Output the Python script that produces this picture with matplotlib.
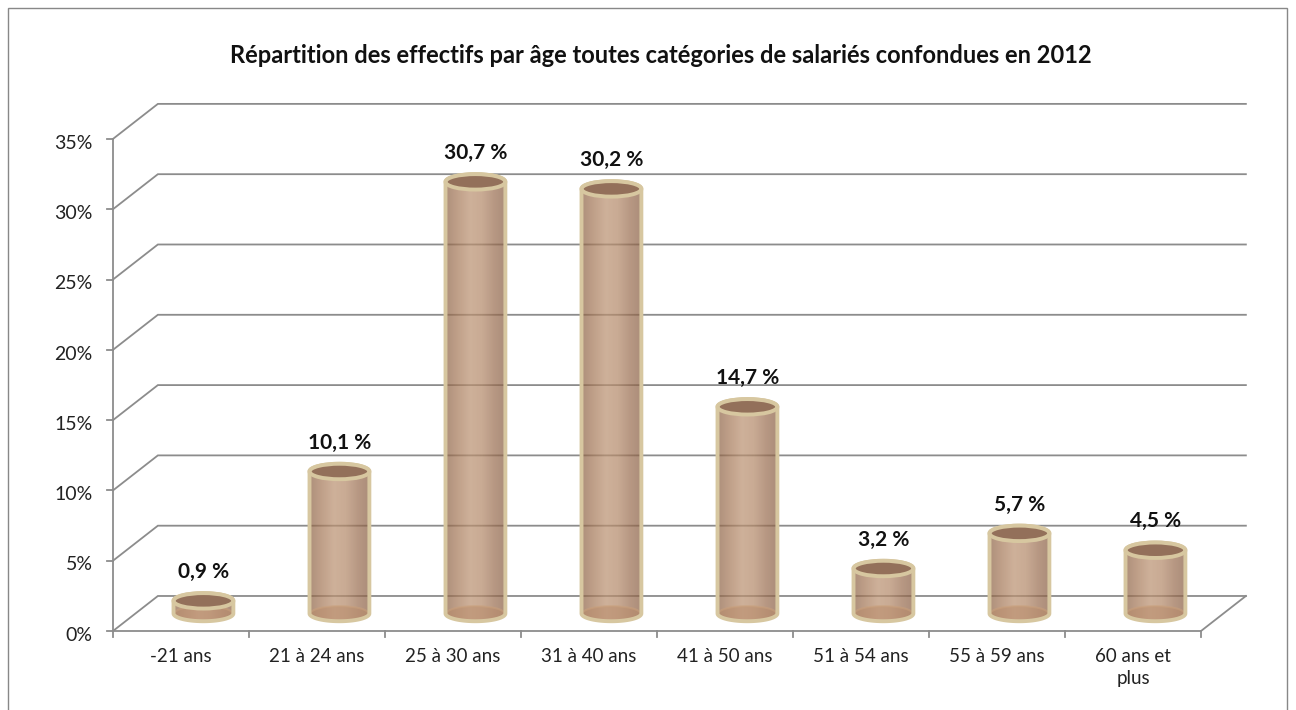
import numpy as np
import matplotlib.pyplot as plt
from matplotlib.patches import Ellipse, Polygon, Rectangle
from matplotlib.colors import LinearSegmentedColormap

plt.rcParams['font.family'] = ['Lato', 'DejaVu Sans']

categories = ['-21 ans', '21 à 24 ans', '25 à 30 ans', '31 à 40 ans',
              '41 à 50 ans', '51 à 54 ans', '55 à 59 ans', '60 ans et\nplus']
values = [0.9, 10.1, 30.7, 30.2, 14.7, 3.2, 5.7, 4.5]
yticks = [0, 5, 10, 15, 20, 25, 30, 35]
title = 'Répartition des effectifs par âge toutes catégories de salariés confondues en 2012'

# perspective of the fake 3D box (category units / percent units)
DX = 0.33
DY = 2.49
W = 0.44      # cylinder width
EH = 1.1      # ellipse height
GRID = '#8c8c8c'

fig = plt.figure(figsize=(12.96, 7.10), dpi=100)
ax = fig.add_axes([0, 0, 1, 1])
ax.set_xlim(-113 / 136, (1296 - 113) / 136)
ax.set_ylim(-(710 - 631) / 14.06, 631 / 14.06)
ax.axis('off')

n = len(categories)

# outer frame
fig.patches.append(Rectangle((8 / 1296, -0.02), 1279 / 1296, 1 - 8 / 710 + 0.02,
                             transform=fig.transFigure, fill=False,
                             edgecolor='#888888', lw=1.0))

# gridlines on the back wall + left wall
for t in yticks:
    ax.plot([0, DX, n + DX], [t, t + DY, t + DY], color=GRID, lw=1.3, zorder=1,
            solid_joinstyle='miter')
    ax.plot([-0.045, 0], [t, t], color=GRID, lw=1.3, zorder=1)
    ax.text(-0.15, t - 0.3, '{}%'.format(t), ha='right', va='center',
            fontsize=14, color='#222222')

# front axis and floor
ax.plot([0, 0], [0, yticks[-1]], color=GRID, lw=1.3, zorder=1)
ax.plot([0, n, n + DX], [0, 0, DY], color=GRID, lw=1.3, zorder=1)
for i in range(n + 1):
    ax.plot([i, i], [0, -0.45], color=GRID, lw=1.3, zorder=1)

for i, c in enumerate(categories):
    ax.text(i + 0.5, -1.2, c, ha='center', va='top', fontsize=13.5,
            color='#222222', linespacing=1.4)

ax.text(n / 2 + 0.03, 40.9, title, ha='center', va='center', fontsize=17,
        fontweight='bold', color='#111111')

body_cmap = LinearSegmentedColormap.from_list(
    'body', ['#8f6548', '#a87c5c', '#bb9272', '#b48a6a', '#9c7053', '#8a6045'])

for i, v in enumerate(values):
    cx = i + 0.5 + DX / 2
    b = DY / 2
    top = b + v
    th = np.linspace(np.pi, 2 * np.pi, 60)
    bx = cx + W / 2 * np.cos(th)
    by = b + EH / 2 * np.sin(th)
    th2 = np.linspace(0, np.pi, 60)
    tx = cx + W / 2 * np.cos(th2)
    ty = top + EH / 2 * np.sin(th2)
    pts = np.column_stack([np.concatenate([bx, tx]), np.concatenate([by, ty])])
    shape = Polygon(pts, closed=True, facecolor='none', edgecolor='none')
    ax.add_patch(shape)
    grad = np.linspace(0, 1, 100).reshape(1, -1)
    im = ax.imshow(grad, cmap=body_cmap, aspect='auto', alpha=0.72,
                   extent=[cx - W / 2, cx + W / 2, b - EH / 2, top + EH / 2],
                   zorder=3, interpolation='bilinear')
    im.set_clip_path(shape)
    # inner bottom ellipse seen through the body
    ax.add_patch(Ellipse((cx, b), W * 0.97, EH * 0.95, facecolor='#b88a68',
                         edgecolor='#c9a07c', lw=1.5, alpha=0.55, zorder=3.5))
    # silhouette outline
    ax.add_patch(Polygon(pts, closed=True, facecolor='none',
                         edgecolor='#d7c7a0', lw=2.8, zorder=4))
    # top face
    ax.add_patch(Ellipse((cx, top), W, EH, facecolor='#93705a',
                         edgecolor='#d7c7a0', lw=2.8, zorder=4.5))
    lab = '{:.1f} %'.format(v).replace('.', ',')
    ax.text(cx, top + 2.05, lab, ha='center', va='center', fontsize=15,
            fontweight='bold', color='#111111', zorder=6)

fig.savefig('out.png', dpi=100)
